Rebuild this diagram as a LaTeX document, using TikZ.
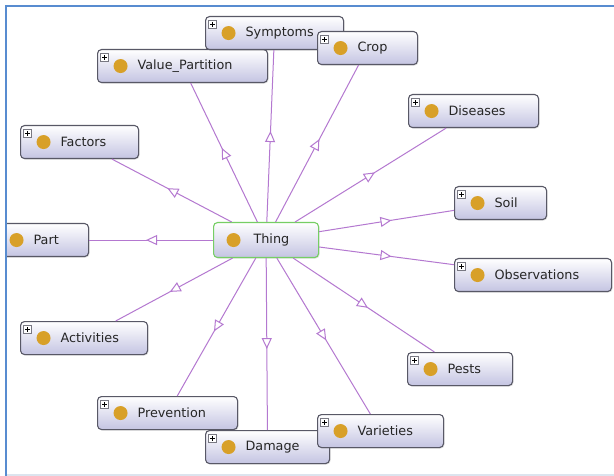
\documentclass[tikz,border=0pt]{standalone}
\usepackage{fontspec}
\setmainfont{DejaVu Sans}
\usetikzlibrary{arrows.meta,decorations.markings,shadows}

\definecolor{edgepurple}{RGB}{180,120,208}
\definecolor{boxedge}{RGB}{88,88,102}
\definecolor{boxlow}{RGB}{196,196,226}
\definecolor{bulb}{RGB}{216,160,40}
\definecolor{thinggreen}{RGB}{118,206,100}
\definecolor{frameblue}{RGB}{88,140,208}
\definecolor{framelight}{RGB}{220,228,238}
\definecolor{plusgray}{RGB}{120,120,130}

\tikzset{
  cls/.style={draw=boxedge, line width=1.1pt, rounded corners=4pt,
    top color=white, bottom color=boxlow,
    minimum height=33pt, inner xsep=0pt, inner ysep=0pt,
    align=left, anchor=north west,
    font=\fontsize{12.8}{15}\selectfont, text=black!85,
    execute at begin node={\hspace*{40pt}},
    drop shadow={shadow xshift=1pt, shadow yshift=-1pt, opacity=0.25}},
  boxw/.style={minimum width=#1pt, text width=#1pt},
  % class with the expand marker in its top-left corner
  sub/.style={cls, path picture={
    \fill[bulb] ([xshift=23pt]path picture bounding box.west) circle (7pt);
    \draw[plusgray, fill=white, line width=0.6pt, rounded corners=0pt]
      ([xshift=3pt,yshift=-4pt]path picture bounding box.north west) rectangle ++(8pt,-8pt);
    \draw[black, line width=0.8pt, rounded corners=0pt]
      ([xshift=7pt,yshift=-5.5pt]path picture bounding box.north west) -- ++(0pt,-5pt)
      ([xshift=4.5pt,yshift=-8pt]path picture bounding box.north west) -- ++(5pt,0pt);
  }},
  % class shown without the marker
  leaf/.style={cls, path picture={
    \fill[bulb] ([xshift=23pt]path picture bounding box.west) circle (7pt);
  }},
  root/.style={cls, draw=thinggreen, minimum height=35pt, path picture={
    \fill[bulb] ([xshift=20pt]path picture bounding box.west) circle (7pt);
  }},
  isa/.style={color=edgepurple, line width=1pt, postaction={decorate},
    decoration={markings, mark=at position 0.5 with
      {\arrow[xshift=5pt]{Triangle[length=11pt,width=10pt,fill=white]}}}},
}

\begin{document}
\begin{tikzpicture}[x=1pt,y=-1pt]
\useasboundingbox (0,0) rectangle (614,476);
\fill[white] (0,0) rectangle (614,476);
\begin{scope}
  \clip (7,7) rectangle (614,476);
  \node[sub, boxw=170] (valuepartition) at (97,49) {Value\_Partition};
  \node[sub, boxw=138] (symptoms) at (205,16) {Symptoms};
  \node[sub, boxw=100] (crop) at (317,31) {Crop};
  \node[sub, boxw=130] (diseases) at (408,94) {Diseases};
  \node[sub, boxw=118] (factors) at (20,125) {Factors};
  \node[sub, boxw=92] (soil) at (454,186) {Soil};
  \node[leaf, boxw=95] (part) at (-7,223) {Part};
  \node[root, boxw=105] (thing) at (213,222) {Thing};
  \node[sub, boxw=157] (observations) at (454,258) {Observations};
  \node[sub, boxw=127] (activities) at (20,321) {Activities};
  \node[sub, boxw=105] (pests) at (407,352) {Pests};
  \node[sub, boxw=140] (prevention) at (97,396) {Prevention};
  \node[sub, boxw=124] (damage) at (205,430) {Damage};
  \node[sub, boxw=126] (varieties) at (317,414) {Varieties};

  \foreach \c in {valuepartition,symptoms,crop,diseases,factors,soil,part,
                  observations,activities,pests,prevention,damage,varieties}
    \draw[isa] (thing) -- (\c);
\end{scope}

% window frame
\draw[framelight, line width=1.5pt] (6,475) -- (614,475);
\draw[frameblue, line width=2.5pt] (6,476) -- (6,6) -- (614,6);
\end{tikzpicture}
\end{document}
